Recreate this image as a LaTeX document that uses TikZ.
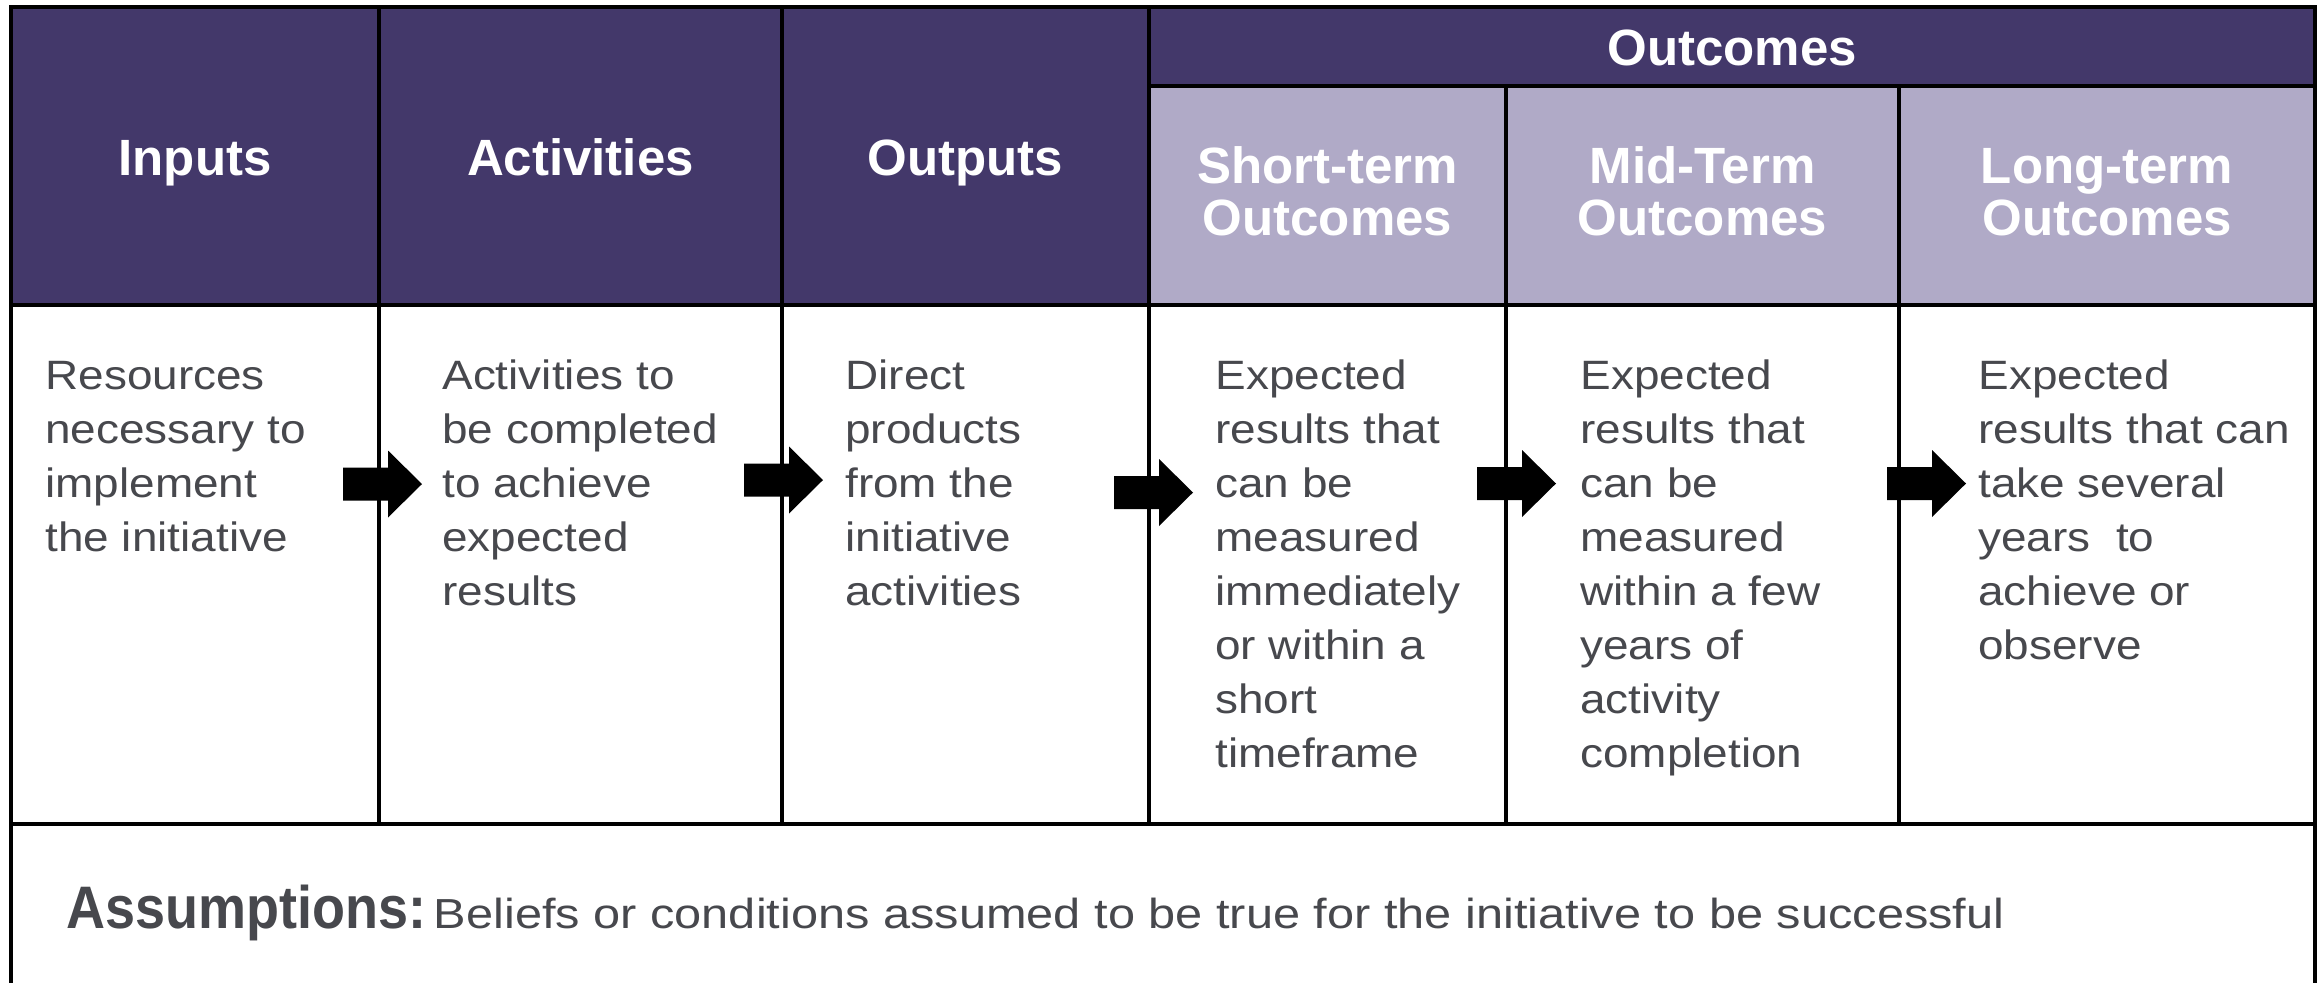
\documentclass[tikz,border=0pt]{standalone}
\usepackage{fontspec}
\setmainfont{Liberation Sans}
\newfontfamily\bodyfont{Liberation Sans}[FakeStretch=1.12]
\newfontfamily\sentfont{Liberation Sans}[FakeStretch=1.16]
\newfontfamily\medfont{Liberation Sans Bold}
\newfontfamily\asmfont{Liberation Sans Bold}[FakeStretch=0.9]
\definecolor{darkpurple}{HTML}{43386A}
\definecolor{lightpurple}{HTML}{B0AAC7}
\definecolor{textgray}{HTML}{47484D}
\tikzset{
  gridline/.style={line width=1.6pt, black},
  headtext/.style={inner sep=0pt, text=white, font=\medfont\fontsize{25.5}{26}\selectfont},
  bodytext/.style={inner sep=0pt, text=textgray, anchor=base west},
  blockarrow/.pic={\fill[black] (0,-16.5) -- (45,-16.5) -- (45,-33.5) -- (79,0) -- (45,33.5) -- (45,16.5) -- (0,16.5) -- cycle;}
}
\newcommand{\bodytxt}[1]{\parbox[t]{170pt}{\bodyfont\fontsize{20.5}{27}\selectfont\raggedright #1}}
\newcommand{\headtwo}[1]{\parbox[t]{190pt}{\medfont\fontsize{25.5}{26}\selectfont\centering #1}}
\begin{document}
\begin{tikzpicture}[x=0.5pt, y=-0.5pt]
\useasboundingbox (0,0) rectangle (2323,982);
\fill[white] (0,0) rectangle (2323,982);
% header fills
\fill[darkpurple] (11,7) rectangle (1149,305);
\fill[darkpurple] (1149,7) rectangle (2315,86);
\fill[lightpurple] (1149,86) rectangle (2315,305);
% grid lines
\draw[gridline] (11,990) -- (11,7) -- (2315,7) -- (2315,990);
\draw[gridline] (1149,86) -- (2315,86);
\draw[gridline] (11,305) -- (2315,305);
\draw[gridline] (11,824) -- (2315,824);
\draw[gridline] (379,7) -- (379,824);
\draw[gridline] (782,7) -- (782,824);
\draw[gridline] (1149,7) -- (1149,824);
\draw[gridline] (1506,86) -- (1506,824);
\draw[gridline] (1899,86) -- (1899,824);
% header texts
\node[headtext, anchor=base] (hin) at (195,175) {Inputs};
\node[headtext, anchor=base] (hact) at (580.5,175) {Activities};
\node[headtext, anchor=base] (hout) at (965.5,175) {Outputs};
\node[headtext, anchor=base] (hoc) at (1732,65) {Outcomes};
\node[headtext, anchor=base] (hst) at (1327.5,183) {\headtwo{Short-term\\Outcomes}};
\node[headtext, anchor=base] (hmt) at (1702.5,183) {\headtwo{Mid-Term\\Outcomes}};
\node[headtext, anchor=base] (hlt) at (2107,183) {\headtwo{Long-term\\Outcomes}};
% body texts
\node[bodytext] (tin) at (45,389) {\bodytxt{Resources\\necessary to\\implement\\the initiative}};
\node[bodytext] (tact) at (442,389) {\bodytxt{Activities to\\be completed\\to achieve\\expected\\results}};
\node[bodytext] (tout) at (845,389) {\bodytxt{Direct\\products\\from the\\initiative\\activities}};
\node[bodytext] (tst) at (1215,389) {\bodytxt{Expected\\results that\\can be\\measured\\immediately\\or within a\\short\\timeframe}};
\node[bodytext] (tmt) at (1580,389) {\bodytxt{Expected\\results that\\can be\\measured\\within a few\\years of\\activity\\completion}};
\node[bodytext] (tlt) at (1978,389) {\bodytxt{Expected\\results that can\\take several\\years\ \ to\\achieve or\\observe}};
% arrows
\pic at (343,484) {blockarrow};
\pic at (744,480) {blockarrow};
\pic at (1114,492.5) {blockarrow};
\pic at (1477,483.5) {blockarrow};
\pic at (1887,483.5) {blockarrow};
% assumptions
\node[bodytext] (asm) at (66,928) {{\asmfont\fontsize{30}{34}\selectfont Assumptions:} {\sentfont\fontsize{21}{27}\selectfont Beliefs or conditions assumed to be true for the initiative to be successful}};
\end{tikzpicture}
\end{document}
